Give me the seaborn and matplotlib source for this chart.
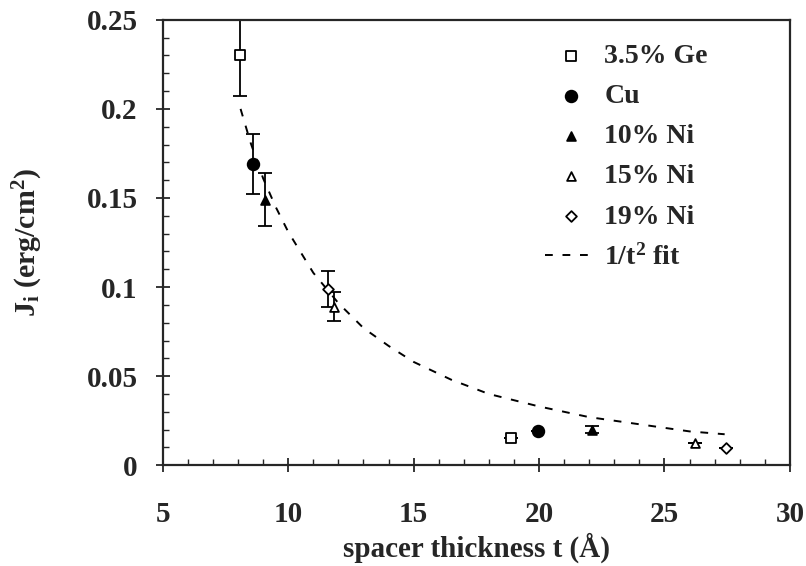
import numpy as np
import pandas as pd
import matplotlib
matplotlib.use("Agg")
import matplotlib.pyplot as plt
from matplotlib.ticker import MultipleLocator
import seaborn as sns

# -------------------------------
# DATA
# -------------------------------
labels = ["3.5% Ge", "Cu", "10% Ni", "15% Ni", "19% Ni"]

ge_t = [8.07, 18.9]
ge_j = [0.230, 0.0155]
ge_err = [0.023, 0.0]

cu_t = [8.59, 19.95]
cu_j = [0.169, 0.019]
cu_err = [0.017, 0.0]

ni10_t = [9.07, 22.1]
ni10_j = [0.149, 0.020]
ni10_err = [0.015, 0.002]

ni15_t = [11.82, 26.2]
ni15_j = [0.089, 0.0125]
ni15_err = [0.008, 0.0]

ni19_t = [11.58, 27.45]
ni19_j = [0.099, 0.0095]
ni19_err = [0.010, 0.0]

# dashed 1/t^2 fit, points along the drawn curve
fit_t = [8.1, 8.5, 9.0, 9.5, 10.0, 11.0, 12.0, 13.0, 14.0, 15.0, 16.5, 18.0,
         20.0, 22.0, 24.0, 26.0, 27.4]
fit_j = [0.200, 0.181, 0.161, 0.145, 0.131, 0.108, 0.091, 0.077, 0.067, 0.058,
         0.048, 0.040, 0.033, 0.027, 0.023, 0.019, 0.0174]

series = [
    (ge_t, ge_j, ge_err, "s", "white"),
    (cu_t, cu_j, cu_err, "o", "black"),
    (ni10_t, ni10_j, ni10_err, "^", "black"),
    (ni15_t, ni15_j, ni15_err, "^", "white"),
    (ni19_t, ni19_j, ni19_err, "D", "white"),
]
sizes = [55, 70, 40, 40, 30]

# -------------------------------
# STYLE
# -------------------------------
sns.set_style("ticks")
plt.rcParams["font.family"] = ["Liberation Serif", "DejaVu Serif"]
plt.rcParams["font.weight"] = "bold"
plt.rcParams["axes.labelweight"] = "bold"
plt.rcParams["mathtext.default"] = "regular"
plt.rcParams["axes.linewidth"] = 1.6

fig = plt.figure(figsize=(8.06, 5.66), dpi=100)
ax = fig.add_axes([0.202, 0.178, 0.778, 0.787])

# -------------------------------
# PLOT
# -------------------------------
for (t, j, err, mk, fc), lab, s in zip(series, labels, sizes):
    ax.errorbar(t, j, yerr=err, fmt="none", ecolor="black", elinewidth=1.3,
                capsize=5, capthick=1.3, zorder=2)
    df = pd.DataFrame({"t": t, "J": j})
    sns.scatterplot(data=df, x="t", y="J", marker=mk, s=s, color=fc,
                    edgecolor="black", linewidth=1.3, label=lab, ax=ax, zorder=3)

fit_df = pd.DataFrame({"t": fit_t, "J": fit_j})
sns.lineplot(data=fit_df, x="t", y="J", color="black", linewidth=1.4,
             dashes=False, label=r"1/t$^{2}$ fit", ax=ax, zorder=1)
ax.lines[-1].set_dashes([4, 5])

ax.set_xlim(5, 30)
ax.set_ylim(0, 0.25)
ax.xaxis.set_major_locator(MultipleLocator(5))
ax.xaxis.set_minor_locator(MultipleLocator(1))
ax.yaxis.set_minor_locator(MultipleLocator(0.01))
ax.set_yticks([0, 0.05, 0.1, 0.15, 0.2, 0.25])
ax.set_yticklabels(["0", "0.05", "0.1", "0.15", "0.2", "0.25"])
ax.tick_params(which="major", direction="inout", length=10, width=1.3,
               labelsize=21)
ax.tick_params(which="minor", direction="in", length=4, width=1.0)
ax.tick_params(axis="x", pad=21)
ax.tick_params(axis="y", pad=13)

ax.set_xlabel("spacer thickness t (Å)", fontsize=21, labelpad=3)
ax.set_ylabel("J$_{i}$ (erg/cm$^{2}$)", fontsize=21.5, labelpad=30)

leg = ax.legend(loc="upper left", bbox_to_anchor=(0.609, 0.947), frameon=False,
                fontsize=20, handlelength=1.9, handletextpad=0.25,
                labelspacing=0.53, borderpad=0, borderaxespad=0)

plt.savefig("out.png", dpi=100)
